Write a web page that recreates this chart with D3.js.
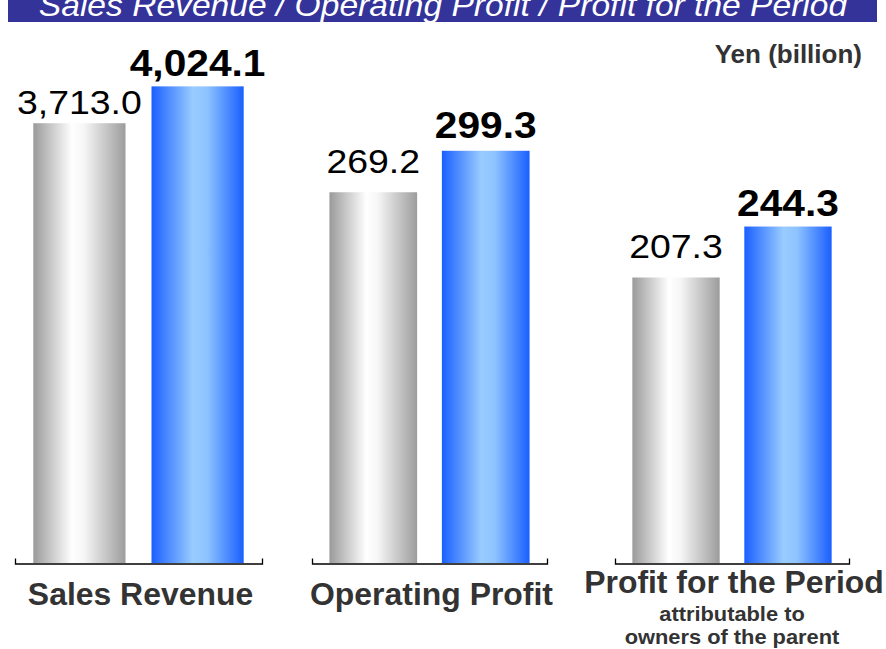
<!DOCTYPE html>
<html>
<head>
<meta charset="utf-8">
<script src="https://cdn.jsdelivr.net/npm/d3@7"></script>
<style>
  html, body { margin: 0; padding: 0; background: #fff; }
  svg { display: block; font-family: "Liberation Sans", Arial, Helvetica, sans-serif; }
</style>
</head>
<body>
<svg id="chart" width="886" height="649"></svg>
<script>
// ---- data ----
const title = "Sales Revenue / Operating Profit / Profit for the Period";
const unitLabel = "Yen (billion)";
const categories = ["Sales Revenue", "Operating Profit", "Profit for the Period"];
const subLabels = [[], [], ["attributable to", "owners of the parent"]];
const periods = ["Previous", "Current"];
const previousValues = [3713.0, 269.2, 207.3];
const currentValues = [4024.1, 299.3, 244.3];
const yMaxima = [4500, 387, 387];

// ---- layout / style ----
const W = 886, H = 649;
const baseline = 563, plotTop = 30;
const panelRanges = [[15, 262], [312, 547], [615, 849]];
const catBaselines = [605, 605, 593];
const gapPrev = [9, 19, 19];
const gapCurr = [10, 13, 11];
const fmt = d3.format(",.1f");

const svg = d3.select("#chart");
const defs = svg.append("defs");

const gGray = defs.append("linearGradient").attr("id", "gradGray")
  .attr("x1", "0%").attr("x2", "100%").attr("y1", "0%").attr("y2", "0%");
[[0, "#9a9a9a"], [0.42, "#ffffff"], [0.55, "#f6f6f6"], [1, "#9c9c9c"]]
  .forEach(([o, c]) => gGray.append("stop").attr("offset", o).attr("stop-color", c));

const gBlue = defs.append("linearGradient").attr("id", "gradBlue")
  .attr("x1", "0%").attr("x2", "100%").attr("y1", "0%").attr("y2", "0%");
[[0, "#1a5fff"], [0.45, "#99ccff"], [0.6, "#8ec4ff"], [1, "#1a5fff"]]
  .forEach(([o, c]) => gBlue.append("stop").attr("offset", o).attr("stop-color", c));

// title band
svg.append("rect").attr("x", 8).attr("y", 0).attr("width", 869).attr("height", 22)
  .attr("fill", "#333399");
svg.append("text")
  .attr("transform", "translate(443,16) scale(1.05,1)")
  .attr("text-anchor", "middle")
  .attr("font-size", 32).attr("font-style", "italic")
  .attr("fill", "#fff").text(title);

// unit label
svg.append("text").attr("x", 862).attr("y", 63).attr("text-anchor", "end")
  .attr("font-size", 26).attr("font-weight", "bold").attr("fill", "#333")
  .text(unitLabel);

categories.forEach((cat, i) => {
  const x = d3.scaleBand().domain(periods).range(panelRanges[i])
    .paddingInner(0.22).paddingOuter(0.155);
  const y = d3.scaleLinear().domain([0, yMaxima[i]]).range([baseline, plotTop]);
  const g = svg.append("g");
  const vals = [previousValues[i], currentValues[i]];

  g.selectAll("rect.bar").data(periods).join("rect")
    .attr("class", "bar")
    .attr("x", d => x(d))
    .attr("width", x.bandwidth())
    .attr("y", (d, j) => y(vals[j]))
    .attr("height", (d, j) => baseline - y(vals[j]))
    .attr("fill", (d, j) => j === 0 ? "url(#gradGray)" : "url(#gradBlue)");

  // axis
  const axis = d3.axisBottom(x).tickSizeInner(0).tickSizeOuter(-5).tickFormat("");
  const ag = g.append("g").attr("transform", `translate(0,${baseline + 0.5})`).call(axis);
  ag.select(".domain").attr("stroke", "#000").attr("stroke-width", 1.3);
  ag.selectAll(".tick").remove();

  // value labels
  periods.forEach((p, j) => {
    const cx = x(p) + x.bandwidth() / 2;
    const ty = y(vals[j]) - (j === 0 ? gapPrev[i] : gapCurr[i]);
    g.append("text")
      .attr("transform", `translate(${cx},${ty}) scale(1.1,1)`)
      .attr("text-anchor", "middle")
      .attr("font-size", j === 0 ? 34 : 37)
      .attr("font-weight", j === 0 ? "normal" : "bold")
      .attr("fill", "#000")
      .text(fmt(vals[j]));
  });

  // category label
  const r = panelRanges[i];
  const mid = (r[0] + r[1]) / 2;
  g.append("text")
    .attr("transform", `translate(${mid + 2},${catBaselines[i]}) scale(1.03,1)`)
    .attr("text-anchor", "middle")
    .attr("font-size", 31).attr("font-weight", "bold").attr("fill", "#333")
    .text(cat);
  subLabels[i].forEach((s, k) => {
    g.append("text")
      .attr("transform", `translate(${mid},${621 + k * 23}) scale(1.04,1)`)
      .attr("text-anchor", "middle")
      .attr("font-size", 21).attr("font-weight", "bold").attr("fill", "#333")
      .text(s);
  });
});
</script>
</body>
</html>
